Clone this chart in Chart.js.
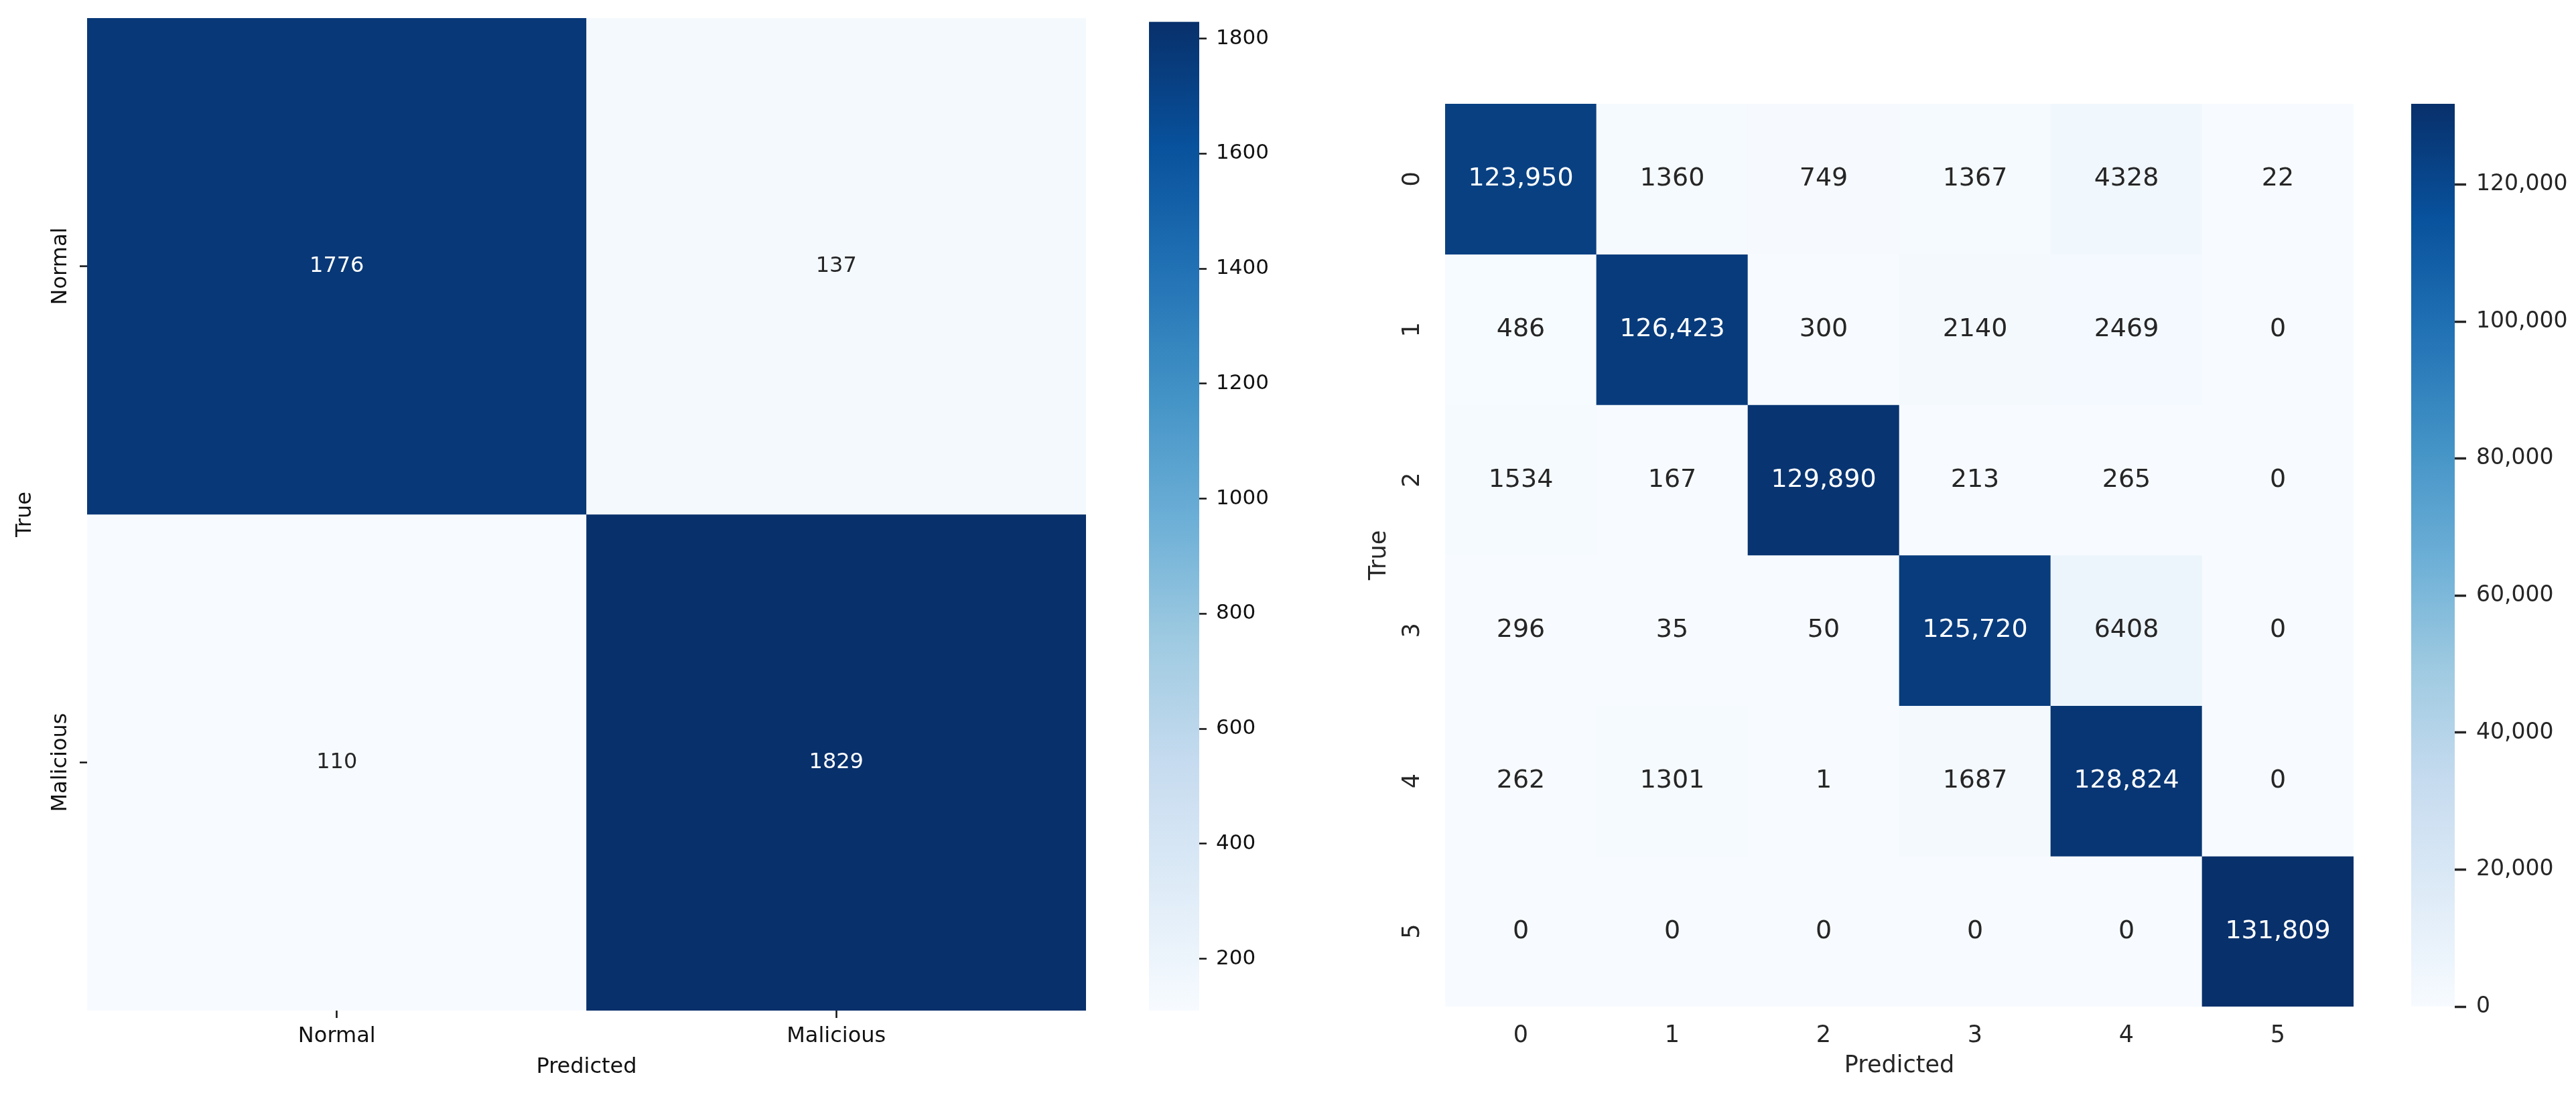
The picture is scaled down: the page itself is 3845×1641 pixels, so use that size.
<!DOCTYPE html>
<html>
<head>
<meta charset="utf-8">
<title>Confusion matrices</title>
<script src="https://cdn.jsdelivr.net/npm/chart.js@4.4.1/dist/chart.umd.min.js"></script>
<style>
  html, body { margin: 0; padding: 0; background: #fff; }
  body { position: relative; width: 3845px; height: 1641px; overflow: hidden; }
  canvas { position: absolute; top: 0; }
</style>
</head>
<body>
<canvas id="binary-map" width="1660" height="1641" style="left:0px"></canvas>
<canvas id="binary-bar" width="300" height="1641" style="left:1700px"></canvas>
<canvas id="multi-map" width="1600" height="1641" style="left:1950px"></canvas>
<canvas id="multi-bar" width="265" height="1641" style="left:3580px"></canvas>
<script>
"use strict";

// binary model: Normal vs Malicious
const binaryLabels = ["Normal", "Malicious"];
const binaryMatrix = [
  [1776, 137],
  [110, 1829]
];
const binaryBarTicks = [200, 400, 600, 800, 1000, 1200, 1400, 1600, 1800];

// multi-class model: classes 0..5
const classLabels = ["0", "1", "2", "3", "4", "5"];
const classMatrix = [
  [123950, 1360, 749, 1367, 4328, 22],
  [486, 126423, 300, 2140, 2469, 0],
  [1534, 167, 129890, 213, 265, 0],
  [296, 35, 50, 125720, 6408, 0],
  [262, 1301, 1, 1687, 128824, 0],
  [0, 0, 0, 0, 0, 131809]
];
const classBarTicks = [0, 20000, 40000, 60000, 80000, 100000, 120000];

// matplotlib "Blues" colormap
const bluesStops = ["#f7fbff", "#deebf7", "#c6dbef", "#9ecae1", "#6baed6",
                    "#4292c6", "#2171b5", "#08519c", "#08306b"];

const FONT = "DejaVu Sans";
Chart.defaults.font.family = FONT;

function hexToRgb(h) {
  return [parseInt(h.slice(1, 3), 16), parseInt(h.slice(3, 5), 16), parseInt(h.slice(5, 7), 16)];
}

function blues(t) {
  t = Math.max(0, Math.min(1, t));
  const pos = t * (bluesStops.length - 1);
  const i = Math.min(Math.floor(pos), bluesStops.length - 2);
  const f = pos - i;
  const a = hexToRgb(bluesStops[i]);
  const b = hexToRgb(bluesStops[i + 1]);
  return a.map((v, k) => Math.round(v + (b[k] - v) * f));
}

// same rule seaborn uses to pick the annotation colour
function luminance(rgb) {
  const c = rgb.map(v => {
    v = v / 255;
    return v <= 0.03928 ? v / 12.92 : Math.pow((v + 0.055) / 1.055, 2.4);
  });
  return 0.2126 * c[0] + 0.7152 * c[1] + 0.0722 * c[2];
}

function makeCellText(size, format) {
  return {
    id: "cellText",
    afterDatasetsDraw(chart) {
      const ctx = chart.ctx;
      ctx.save();
      ctx.font = size + "px '" + FONT + "'";
      ctx.textAlign = "center";
      ctx.textBaseline = "middle";
      chart.data.datasets.forEach((ds, r) => {
        chart.getDatasetMeta(r).data.forEach((bar, c) => {
          const rgb = ds.cellRgb[c];
          ctx.fillStyle = luminance(rgb) > 0.408 ? "#262626" : "#ffffff";
          ctx.fillText(format(ds.counts[c]), bar.x, (bar.y + bar.base) / 2);
        });
      });
      ctx.restore();
    }
  };
}

// s: style settings for one heatmap
function heatmap(canvasId, labels, matrix, s) {
  const flat = matrix.flat();
  const vmin = Math.min(...flat);
  const vmax = Math.max(...flat);

  const datasets = matrix.map((row, r) => {
    const rgb = row.map(v => blues((v - vmin) / (vmax - vmin)));
    return {
      label: labels[r],
      data: row.map(() => [r, r + 1]),
      counts: row,
      cellRgb: rgb,
      backgroundColor: rgb.map(c => "rgb(" + c.join(",") + ")"),
      borderWidth: 0,
      barPercentage: 1,
      categoryPercentage: 1,
      grouped: false,
      yAxisID: "y"
    };
  });

  const tickFont = { family: FONT, size: s.tickSize };
  const grid = {
    display: s.tickLength > 0,
    drawOnChartArea: false,
    drawTicks: s.tickLength > 0,
    tickLength: s.tickLength,
    tickWidth: s.tickWidth,
    tickColor: s.color,
    offset: false
  };

  return new Chart(document.getElementById(canvasId), {
    type: "bar",
    data: { labels: labels, datasets: datasets },
    plugins: [makeCellText(s.annotSize, s.format)],
    options: {
      responsive: false,
      devicePixelRatio: 1,
      animation: false,
      events: [],
      layout: { padding: s.padding },
      plugins: { legend: { display: false }, tooltip: { enabled: false } },
      scales: {
        x: {
          type: "category",
          offset: true,
          grid: grid,
          border: { display: false },
          ticks: { color: s.color, font: tickFont, padding: s.xPad, maxRotation: 0, minRotation: 0 },
          title: {
            display: true, text: "Predicted", color: s.color,
            font: { family: FONT, size: s.titleSize },
            padding: { top: 0, bottom: s.xTitlePad }
          },
          afterFit: scale => { scale.height = s.xHeight; }
        },
        y: { type: "linear", display: false, min: 0, max: labels.length, reverse: true },
        yCat: {
          type: "category",
          position: "left",
          labels: labels,
          offset: true,
          grid: grid,
          border: { display: false },
          ticks: {
            color: s.color, font: tickFont, padding: s.yPad,
            minRotation: 90, maxRotation: 90, crossAlign: "center"
          },
          title: {
            display: true, text: "True", color: s.color,
            font: { family: FONT, size: s.titleSize },
            padding: { top: s.yTitlePad, bottom: 0 }
          },
          afterFit: scale => { scale.width = s.yWidth; }
        }
      }
    }
  });
}

function colorbar(canvasId, matrix, ticks, s) {
  const flat = matrix.flat();
  const vmin = Math.min(...flat);
  const vmax = Math.max(...flat);

  return new Chart(document.getElementById(canvasId), {
    type: "bar",
    data: {
      labels: [""],
      datasets: [{
        data: [[vmin, vmax]],
        borderWidth: 0,
        barPercentage: 1,
        categoryPercentage: 1,
        backgroundColor: context => {
          const area = context.chart.chartArea;
          if (!area) return bluesStops[0];
          const g = context.chart.ctx.createLinearGradient(0, area.bottom, 0, area.top);
          bluesStops.forEach((c, i) => g.addColorStop(i / (bluesStops.length - 1), c));
          return g;
        }
      }]
    },
    options: {
      responsive: false,
      devicePixelRatio: 1,
      animation: false,
      events: [],
      layout: { padding: s.padding },
      plugins: { legend: { display: false }, tooltip: { enabled: false } },
      scales: {
        x: { display: false },
        y: {
          type: "linear",
          position: "right",
          min: vmin,
          max: vmax,
          afterBuildTicks: scale => { scale.ticks = ticks.map(v => ({ value: v })); },
          grid: {
            drawOnChartArea: false, drawTicks: true,
            tickLength: s.tickLength, tickWidth: s.tickWidth, tickColor: s.color
          },
          border: { display: false },
          ticks: {
            color: s.color, padding: s.labelPad,
            font: { family: FONT, size: s.tickSize },
            callback: v => s.format(v)
          },
          afterFit: scale => { scale.width = s.axisWidth; }
        }
      }
    }
  });
}

// left: binary confusion matrix (plain matplotlib look)
heatmap("binary-map", binaryLabels, binaryMatrix, {
  padding: { top: 27, right: 39, bottom: 0, left: 0 },
  xHeight: 132, yWidth: 130,
  tickSize: 32, titleSize: 32, annotSize: 32,
  color: "#111111",
  tickLength: 11, tickWidth: 2.5,
  xPad: 8, yPad: -46,
  xTitlePad: 28, yTitlePad: 18,
  format: v => String(v)
});

colorbar("binary-bar", binaryMatrix, binaryBarTicks, {
  padding: { top: 27, right: 0, bottom: 132, left: 15 },
  axisWidth: 210,
  tickSize: 31, color: "#111111",
  tickLength: 11, tickWidth: 2.5, labelPad: 14,
  format: v => String(v)
});

// right: six-class confusion matrix (seaborn look)
heatmap("multi-map", classLabels, classMatrix, {
  padding: { top: 155, right: 37, bottom: 0, left: 0 },
  xHeight: 138, yWidth: 207,
  tickSize: 35, titleSize: 35, annotSize: 38,
  color: "#262626",
  tickLength: 0, tickWidth: 0,
  xPad: 23, yPad: 37,
  xTitlePad: 28, yTitlePad: 88,
  format: v => (v >= 10000 ? v.toLocaleString("en-US") : String(v))
});

colorbar("multi-bar", classMatrix, classBarTicks, {
  padding: { top: 155, right: 0, bottom: 138, left: 19 },
  axisWidth: 181,
  tickSize: 33, color: "#262626",
  tickLength: 17, tickWidth: 3.5, labelPad: 15,
  format: v => v.toLocaleString("en-US")
});
</script>
</body>
</html>
